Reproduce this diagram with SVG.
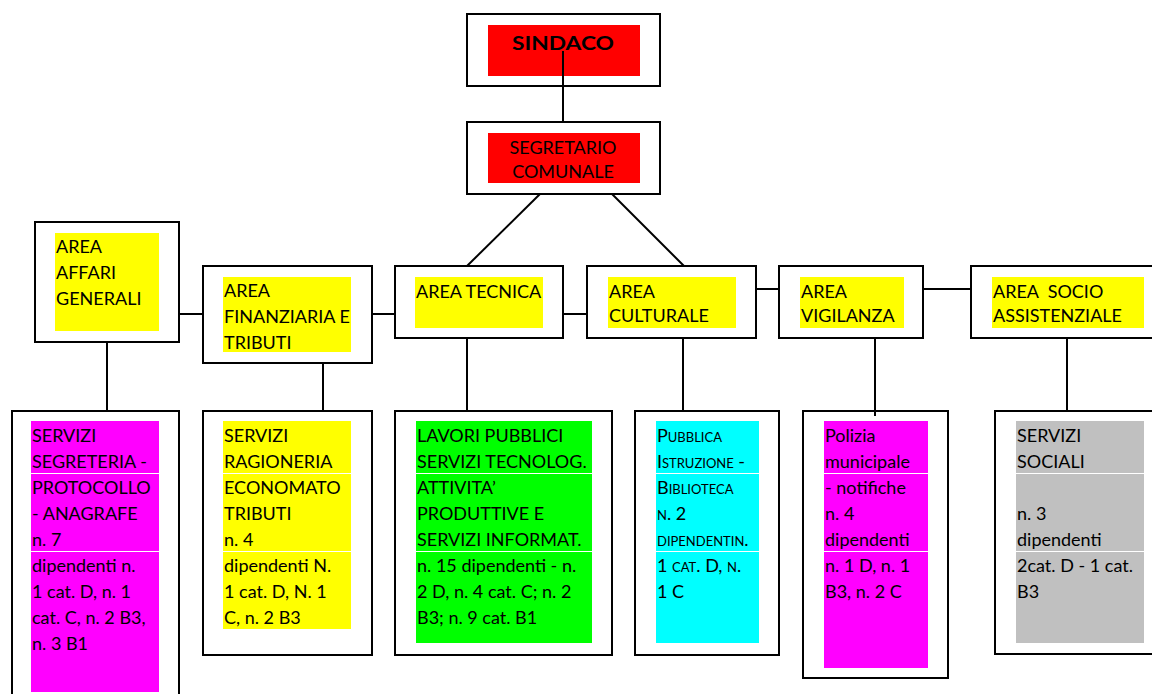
<svg xmlns="http://www.w3.org/2000/svg" width="1152" height="694" viewBox="0 0 1152 694">
<style>
.box{fill:#fff;stroke:#000;stroke-width:2}
.t{font-family:Lato,"Liberation Sans",sans-serif;font-size:18px;fill:#000}
.sep{stroke:#fff;stroke-width:1}
#connectors line{stroke:#000;stroke-width:2}
</style>
<rect width="1152" height="694" fill="#fff"/>
<g id="sindaco">
<rect class="box" x="467" y="14" width="193" height="72"/>
<rect x="488" y="25" width="152" height="51" fill="#ff0000"/>
<text class="t" x="563" y="50" text-anchor="middle" font-weight="bold" font-size="24" textLength="102" lengthAdjust="spacingAndGlyphs">SINDACO</text>
</g>
<g id="segretario">
<rect class="box" x="467" y="122" width="193" height="72"/>
<rect x="488" y="133" width="152" height="50" fill="#ff0000"/>
<text class="t" x="563" y="154" text-anchor="middle" font-size="17">SEGRETARIO</text>
<text class="t" x="563" y="178" text-anchor="middle" font-size="17">COMUNALE</text>
</g>
<g id="area-affari">
<rect class="box" x="35" y="222" width="144" height="120"/>
<rect x="55" y="233" width="104" height="98" fill="#ffff00"/>
<text class="t" x="56" y="253">AREA</text>
<text class="t" x="56" y="279">AFFARI</text>
<text class="t" x="56" y="305">GENERALI</text>
</g>
<g id="area-finanziaria">
<rect class="box" x="203" y="266" width="169" height="97"/>
<rect x="223" y="277" width="128" height="75" fill="#ffff00"/>
<text class="t" x="224" y="297">AREA</text>
<text class="t" x="224" y="323">FINANZIARIA E</text>
<text class="t" x="224" y="349">TRIBUTI</text>
</g>
<g id="area-tecnica">
<rect class="box" x="395" y="266" width="168" height="72"/>
<rect x="415" y="277" width="128" height="51" fill="#ffff00"/>
<text class="t" x="416" y="298">AREA TECNICA</text>
</g>
<g id="area-culturale">
<rect class="box" x="587" y="266" width="169" height="72"/>
<rect x="608" y="277" width="128" height="51" fill="#ffff00"/>
<text class="t" x="609" y="298">AREA</text>
<text class="t" x="609" y="322">CULTURALE</text>
</g>
<g id="area-vigilanza">
<rect class="box" x="779" y="266" width="144" height="72"/>
<rect x="800" y="277" width="104" height="51" fill="#ffff00"/>
<text class="t" x="801" y="298">AREA</text>
<text class="t" x="801" y="322">VIGILANZA</text>
</g>
<g id="area-socio">
<rect class="box" x="971" y="266" width="200" height="72"/>
<rect x="992" y="277" width="152" height="51" fill="#ffff00"/>
<text class="t" x="993" y="298" xml:space="preserve">AREA  SOCIO</text>
<text class="t" x="993" y="322">ASSISTENZIALE</text>
</g>
<g id="servizi-segreteria">
<rect class="box" x="12" y="411" width="167" height="300"/>
<rect x="31" y="421" width="128" height="271" fill="#ff00ff"/>
<line class="sep" x1="31" y1="473.5" x2="159" y2="473.5"/>
<line class="sep" x1="31" y1="551.5" x2="159" y2="551.5"/>
<text class="t" x="32" y="442">SERVIZI</text>
<text class="t" x="32" y="468">SEGRETERIA -</text>
<text class="t" x="32" y="494">PROTOCOLLO</text>
<text class="t" x="32" y="520">- ANAGRAFE</text>
<text class="t" x="32" y="546">n. 7</text>
<text class="t" x="32" y="572">dipendenti n.</text>
<text class="t" x="32" y="598">1 cat. D, n. 1</text>
<text class="t" x="32" y="624">cat. C, n. 2 B3,</text>
<text class="t" x="32" y="650">n. 3 B1</text>
</g>
<g id="servizi-ragioneria">
<rect class="box" x="203" y="411" width="169" height="244"/>
<rect x="223" y="421" width="128" height="208" fill="#ffff00"/>
<line class="sep" x1="223" y1="473.5" x2="351" y2="473.5"/>
<line class="sep" x1="223" y1="551.5" x2="351" y2="551.5"/>
<text class="t" x="224" y="442">SERVIZI</text>
<text class="t" x="224" y="468">RAGIONERIA</text>
<text class="t" x="224" y="494">ECONOMATO</text>
<text class="t" x="224" y="520">TRIBUTI</text>
<text class="t" x="224" y="546">n. 4</text>
<text class="t" x="224" y="572">dipendenti N.</text>
<text class="t" x="224" y="598">1 cat. D, N. 1</text>
<text class="t" x="224" y="624">C, n. 2 B3</text>
</g>
<g id="lavori-pubblici">
<rect class="box" x="395" y="411" width="217" height="244"/>
<rect x="416" y="421" width="176" height="222" fill="#00ff00"/>
<line class="sep" x1="416" y1="473.5" x2="592" y2="473.5"/>
<line class="sep" x1="416" y1="551.5" x2="592" y2="551.5"/>
<text class="t" x="417" y="442">LAVORI PUBBLICI</text>
<text class="t" x="417" y="468">SERVIZI TECNOLOG.</text>
<text class="t" x="417" y="494">ATTIVITA’</text>
<text class="t" x="417" y="520">PRODUTTIVE E</text>
<text class="t" x="417" y="546">SERVIZI INFORMAT.</text>
<text class="t" x="417" y="572">n. 15 dipendenti - n.</text>
<text class="t" x="417" y="598">2 D, n. 4 cat. C; n. 2</text>
<text class="t" x="417" y="624">B3; n. 9 cat. B1</text>
</g>
<g id="pubblica-istruzione">
<rect class="box" x="635" y="411" width="144" height="244"/>
<rect x="656" y="421" width="103" height="222" fill="#00ffff"/>
<line class="sep" x1="656" y1="473.5" x2="759" y2="473.5"/>
<line class="sep" x1="656" y1="551.5" x2="759" y2="551.5"/>
<g font-variant="small-caps">
<text class="t" x="657" y="442">Pubblica</text>
<text class="t" x="657" y="468">Istruzione -</text>
<text class="t" x="657" y="494">Biblioteca</text>
<text class="t" x="657" y="520">n. 2</text>
<text class="t" x="657" y="546">dipendentin.</text>
<text class="t" x="657" y="572">1 cat. D, n.</text>
<text class="t" x="657" y="598">1 C</text>
</g>
</g>
<g id="polizia">
<rect class="box" x="803" y="411" width="145" height="267"/>
<rect x="824" y="421" width="104" height="247" fill="#ff00ff"/>
<line class="sep" x1="824" y1="473.5" x2="928" y2="473.5"/>
<line class="sep" x1="824" y1="551.5" x2="928" y2="551.5"/>
<text class="t" x="825" y="442">Polizia</text>
<text class="t" x="825" y="468">municipale</text>
<text class="t" x="825" y="494">- notifiche</text>
<text class="t" x="825" y="520">n. 4</text>
<text class="t" x="825" y="546">dipendenti</text>
<text class="t" x="825" y="572">n. 1 D, n. 1</text>
<text class="t" x="825" y="598">B3, n. 2 C</text>
</g>
<g id="servizi-sociali">
<rect class="box" x="995" y="411" width="180" height="243"/>
<rect x="1016" y="421" width="128" height="222" fill="#c0c0c0"/>
<line class="sep" x1="1016" y1="473.5" x2="1144" y2="473.5"/>
<line class="sep" x1="1016" y1="551.5" x2="1144" y2="551.5"/>
<text class="t" x="1017" y="442">SERVIZI</text>
<text class="t" x="1017" y="468">SOCIALI</text>
<text class="t" x="1017" y="520">n. 3</text>
<text class="t" x="1017" y="546">dipendenti</text>
<text class="t" x="1017" y="572">2cat. D - 1 cat.</text>
<text class="t" x="1017" y="598">B3</text>
</g>
<g id="connectors">
<line x1="563" y1="51" x2="563" y2="122"/>
<line x1="540" y1="194" x2="467" y2="266"/>
<line x1="612" y1="194" x2="684" y2="266"/>
<line x1="179" y1="314" x2="203" y2="314"/>
<line x1="372" y1="314" x2="395" y2="314"/>
<line x1="563" y1="314" x2="587" y2="314"/>
<line x1="756" y1="289" x2="779" y2="289"/>
<line x1="923" y1="289" x2="971" y2="289"/>
<line x1="107" y1="342" x2="107" y2="411"/>
<line x1="323" y1="363" x2="323" y2="411"/>
<line x1="467" y1="338" x2="467" y2="411"/>
<line x1="683" y1="338" x2="683" y2="411"/>
<line x1="875" y1="338" x2="875" y2="416"/>
<line x1="1067" y1="338" x2="1067" y2="411"/>
</g>
</svg>
